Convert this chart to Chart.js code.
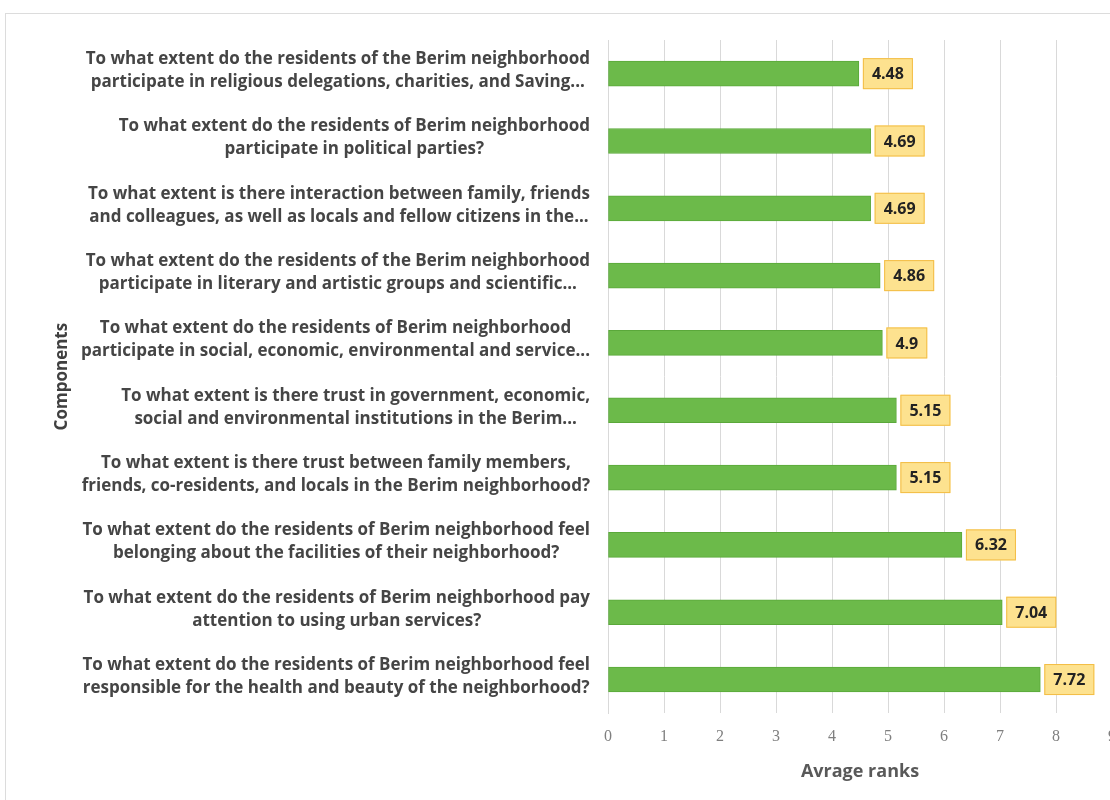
<!DOCTYPE html>
<html><head><meta charset="utf-8">
<script src="https://cdn.jsdelivr.net/npm/chart.js@4.4.0/dist/chart.umd.min.js"></script>
<style>
html,body{margin:0;padding:0;background:#fff;overflow:hidden;width:1110px;height:800px;}
#wrap{position:absolute;left:5px;top:13px;width:1124px;height:787px;border-top:1px solid #dcdcdc;border-left:1px solid #dcdcdc;}
</style></head><body>
<div id="wrap"><canvas id="c"></canvas></div>
<script>
const categories = [
  ["To what extent do the residents of the Berim neighborhood", "participate in religious delegations, charities, and Saving..."],
  ["To what extent do the residents of Berim neighborhood", "participate in political parties?"],
  ["To what extent is there interaction between family, friends", "and colleagues, as well as locals and fellow citizens in the..."],
  ["To what extent do the residents of the Berim neighborhood", "participate in literary and artistic groups and scientific..."],
  ["To what extent do the residents of Berim neighborhood", "participate in social, economic, environmental and service..."],
  ["To what extent is there trust in government, economic,", "social and environmental institutions in the Berim..."],
  ["To what extent is there trust between family members,", "friends, co-residents, and locals in the Berim neighborhood?"],
  ["To what extent do the residents of Berim neighborhood feel", "belonging about the facilities of their neighborhood?"],
  ["To what extent do the residents of Berim neighborhood pay", "attention to using urban services?"],
  ["To what extent do the residents of Berim neighborhood feel", "responsible for the health and beauty of the neighborhood?"]
];
const values = [4.48, 4.69, 4.69, 4.86, 4.9, 5.15, 5.15, 6.32, 7.04, 7.72];
const xMin = 0, xMax = 9, xStep = 1;
const xTitle = "Avrage ranks";
const yTitle = "Components";

const LABEL_FONT = "bold 17px 'Open Sans'";
const labelPlugin = {
  id: 'catLabels',
  afterDraw(chart) {
    const ctx = chart.ctx;
    const ys = chart.scales.y;
    const right = chart.chartArea.left - 18;
    ctx.save();
    ctx.font = LABEL_FONT;
    ctx.fillStyle = '#454545';
    ctx.textBaseline = 'middle';
    ctx.textAlign = 'center';
    categories.forEach((lines, i) => {
      const yc = ys.getPixelForValue(i) - 3;
      const w = Math.max(...lines.map(l => ctx.measureText(l).width));
      const cx = right - w / 2;
      const lh = 23;
      lines.forEach((l, k) => {
        ctx.fillText(l, cx, yc + (k - (lines.length - 1) / 2) * lh);
      });
    });
    ctx.restore();
  }
};
const valuePlugin = {
  id: 'valLabels',
  afterDatasetsDraw(chart) {
    const ctx = chart.ctx;
    const meta = chart.getDatasetMeta(0);
    ctx.save();
    ctx.font = "bold 16px 'Open Sans'";
    ctx.textBaseline = 'middle';
    ctx.textAlign = 'left';
    meta.data.forEach((bar, i) => {
      const txt = String(values[i]);
      const tw = ctx.measureText(txt).width;
      const bx = bar.x + 4, bw = tw + 18, bh = 31, by = bar.y - bh / 2;
      ctx.fillStyle = '#fde28f';
      ctx.fillRect(bx, by, bw, bh);
      ctx.strokeStyle = '#f3bd45';
      ctx.lineWidth = 1;
      ctx.strokeRect(bx + 0.5, by + 0.5, bw - 1, bh - 1);
      ctx.fillStyle = '#222';
      ctx.fillText(txt, bx + 9, bar.y + 1);
    });
    ctx.restore();
  }
};

new Chart(document.getElementById('c'), {
  type: 'bar',
  data: {
    labels: categories,
    datasets: [{
      data: values,
      backgroundColor: '#6cba4a',
      borderColor: '#5aa83a',
      borderWidth: 1,
      barThickness: 25,
      borderSkipped: false
    }]
  },
  options: {
    indexAxis: 'y',
    responsive: true,
    maintainAspectRatio: false,
    animation: false,
    layout: { padding: { left: 46, top: 26, bottom: 18, right: 0 } },
    plugins: { legend: { display: false }, tooltip: { enabled: false } },
    scales: {
      x: {
        min: xMin, max: xMax,
        ticks: { stepSize: xStep, color: '#7f7f7f', font: { family: 'Liberation Serif', size: 16 }, padding: 14 },
        grid: { color: '#d9d9d9', drawTicks: false },
        border: { display: false },
        title: { display: true, text: xTitle, color: '#595959', font: { family: 'Open Sans', size: 18, weight: 'bold' }, padding: { top: 1, bottom: 0 } }
      },
      y: {
        ticks: { display: false },
        grid: { display: false },
        border: { display: true, color: '#d9d9d9' },
        title: { display: true, text: yTitle, color: '#404040', font: { family: 'Open Sans', size: 17, weight: 'bold' }, padding: 0 },
        afterFit(scale) { scale.width = 556; }
      }
    }
  },
  plugins: [labelPlugin, valuePlugin]
});
</script>
</body></html>
